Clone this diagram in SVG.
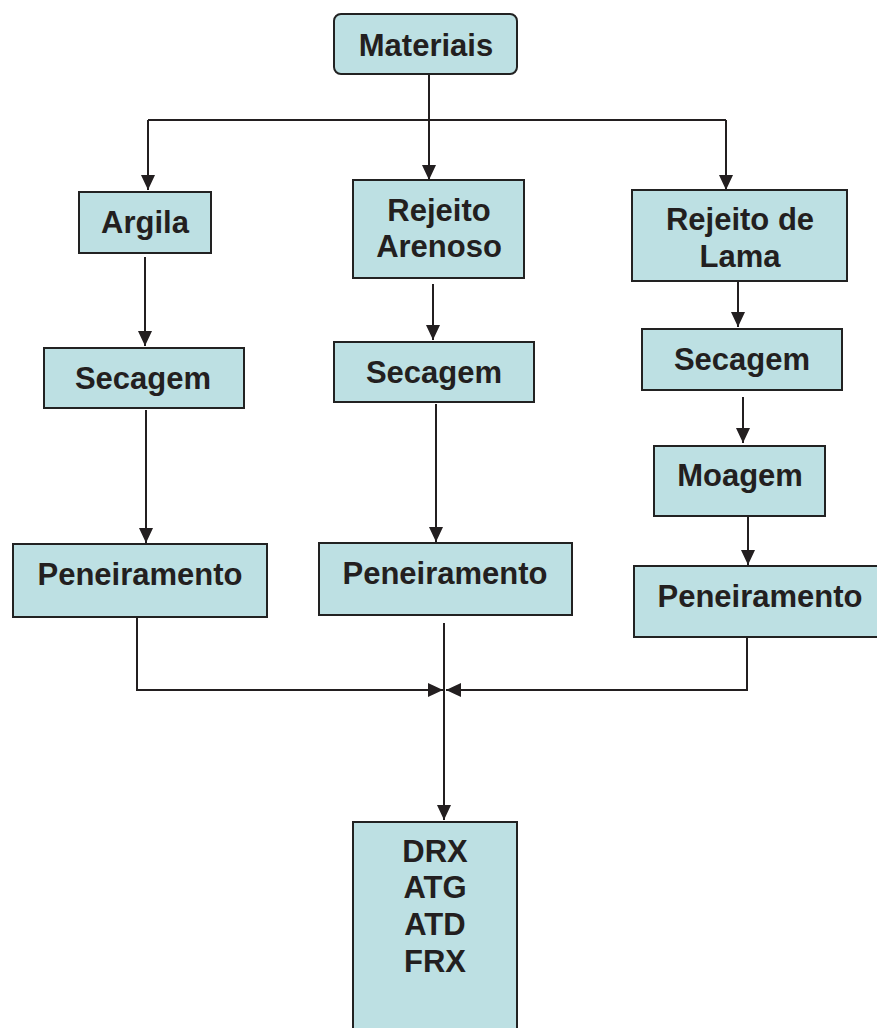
<svg xmlns="http://www.w3.org/2000/svg" width="877" height="1028" viewBox="0 0 877 1028">
<style>
.box{fill:#bde0e3;stroke:#222;stroke-width:2}
.t{font-family:"Liberation Sans",Arial,sans-serif;font-weight:bold;font-size:31px;fill:#231f20;text-anchor:middle}
.c{fill:none;stroke:#231f20;stroke-width:2}
</style>
<defs>
<marker id="ah" markerWidth="15" markerHeight="14" refX="15" refY="7" orient="auto" markerUnits="userSpaceOnUse">
<path d="M0,0 L15,7 L0,14 Z" fill="#231f20"/>
</marker>
</defs>
<rect width="877" height="1028" fill="#fff"/>
<g id="connectors">
<path class="c" d="M429,74 V180" marker-end="url(#ah)"/>
<path class="c" d="M148,120 H726"/>
<path class="c" d="M148,120 V190" marker-end="url(#ah)"/>
<path class="c" d="M726,120 V190" marker-end="url(#ah)"/>
<path class="c" d="M145,257 V346" marker-end="url(#ah)"/>
<path class="c" d="M433,284 V340" marker-end="url(#ah)"/>
<path class="c" d="M738,282 V327" marker-end="url(#ah)"/>
<path class="c" d="M146,410 V543" marker-end="url(#ah)"/>
<path class="c" d="M436,404 V542" marker-end="url(#ah)"/>
<path class="c" d="M743,397 V443" marker-end="url(#ah)"/>
<path class="c" d="M748,517 V565" marker-end="url(#ah)"/>
<path class="c" d="M137,617 V690 H443" marker-end="url(#ah)"/>
<path class="c" d="M747,637 V690 H446" marker-end="url(#ah)"/>
<path class="c" d="M444,623 V820" marker-end="url(#ah)"/>
</g>
<g id="materiais"><rect class="box" x="334" y="14" width="183" height="60" rx="7"/><text class="t" x="426" y="56">Materiais</text></g>
<g id="argila"><rect class="box" x="79" y="192" width="132" height="61"/><text class="t" x="145" y="233">Argila</text></g>
<g id="rejeito-arenoso"><rect class="box" x="353" y="180" width="171" height="98"/><text class="t" x="439" y="221">Rejeito</text><text class="t" x="439" y="257">Arenoso</text></g>
<g id="rejeito-lama"><rect class="box" x="632" y="190" width="215" height="91"/><text class="t" x="740" y="230">Rejeito de</text><text class="t" x="740" y="267">Lama</text></g>
<g id="secagem1"><rect class="box" x="44" y="348" width="200" height="60"/><text class="t" x="143" y="389">Secagem</text></g>
<g id="secagem2"><rect class="box" x="334" y="342" width="200" height="60"/><text class="t" x="434" y="383">Secagem</text></g>
<g id="secagem3"><rect class="box" x="642" y="329" width="200" height="61"/><text class="t" x="742" y="370">Secagem</text></g>
<g id="moagem"><rect class="box" x="654" y="446" width="171" height="70"/><text class="t" x="740" y="486">Moagem</text></g>
<g id="peneiramento1"><rect class="box" x="13" y="544" width="254" height="73"/><text class="t" x="140" y="585">Peneiramento</text></g>
<g id="peneiramento2"><rect class="box" x="319" y="543" width="253" height="72"/><text class="t" x="445" y="584">Peneiramento</text></g>
<g id="peneiramento3"><rect class="box" x="634" y="566" width="250" height="71"/><text class="t" x="760" y="607">Peneiramento</text></g>
<g id="analises"><rect class="box" x="353" y="822" width="164" height="215"/><text class="t" x="435" y="862">DRX</text><text class="t" x="435" y="898">ATG</text><text class="t" x="435" y="935">ATD</text><text class="t" x="435" y="972">FRX</text></g>
</svg>
